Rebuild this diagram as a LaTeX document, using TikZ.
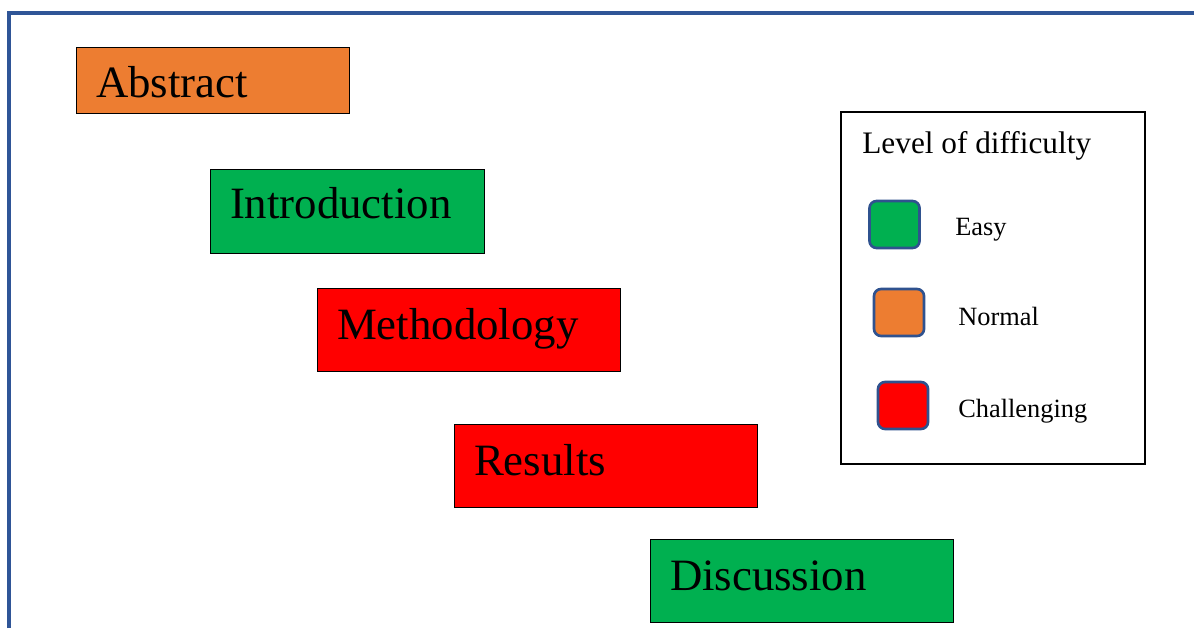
\documentclass[tikz,border=0pt]{standalone}
\usepackage{fontspec}
\setmainfont{Liberation Serif}
\usetikzlibrary{positioning}
\definecolor{bleu}{HTML}{2F528F}
\definecolor{cadre}{HTML}{2F5597}
\definecolor{vert}{HTML}{00B050}
\definecolor{orange}{HTML}{ED7D31}
\definecolor{rouge}{HTML}{FF0000}

\begin{document}
\begin{tikzpicture}[
  sec/.style={draw,line width=0.5pt,font=\fontsize{25.5}{30}\selectfont,align=left,inner xsep=0.4cm,text height=0.6cm,text depth=0.2cm,text width=#1},
  key/.style={draw=bleu,line width=1.5pt,rounded corners=4pt,minimum width=1.0cm,minimum height=0.94cm},
  lab/.style={font=\fontsize{15}{18}\selectfont,anchor=base west,inner sep=0pt}]
  \useasboundingbox (0,0) rectangle (23.88,-12.56);
  % ---- frame
  \draw[cadre,line width=2.3pt] (0.18,-12.56) |- (23.88,-0.26);
  % ---- sections
  \node[sec=4.66cm,fill=orange,minimum height=1.32cm,text height=0.68cm,text depth=0cm] (abs) at (4.25,-1.60) {Abstract};
  \node[sec=4.68cm,fill=vert,minimum height=1.68cm,text depth=0.32cm] (intro) at (6.94,-4.22) {Introduction};
  \node[sec=5.26cm,fill=rouge,minimum height=1.66cm] (meth) at (9.37,-6.59) {Methodology};
  \node[sec=5.26cm,fill=rouge,minimum height=1.66cm] (res) at (12.11,-9.31) {Results};
  \node[sec=5.26cm,fill=vert,minimum height=1.66cm] (disc) at (16.03,-11.61) {Discussion};
  % ---- legend
  \node[draw,line width=0.6pt,minimum width=6.08cm,minimum height=7.04cm] (leg) at (19.86,-5.76) {};
  \node[lab,font=\fontsize{17.8}{20}\selectfont] (title) at (17.24,-3.06) {Level of difficulty};
  \node[key,fill=vert] (keasy) at (17.89,-4.49) {};
  \node[key,fill=orange] (knorm) at (17.98,-6.25) {};
  \node[key,fill=rouge] (khard) at (18.06,-8.11) {};
  \node[lab] (leasy) at (19.10,-4.70) {Easy};
  \node[lab] (lnorm) at (19.16,-6.50) {Normal};
  \node[lab] (lhard) at (19.16,-8.34) {Challenging};
\end{tikzpicture}
\end{document}
